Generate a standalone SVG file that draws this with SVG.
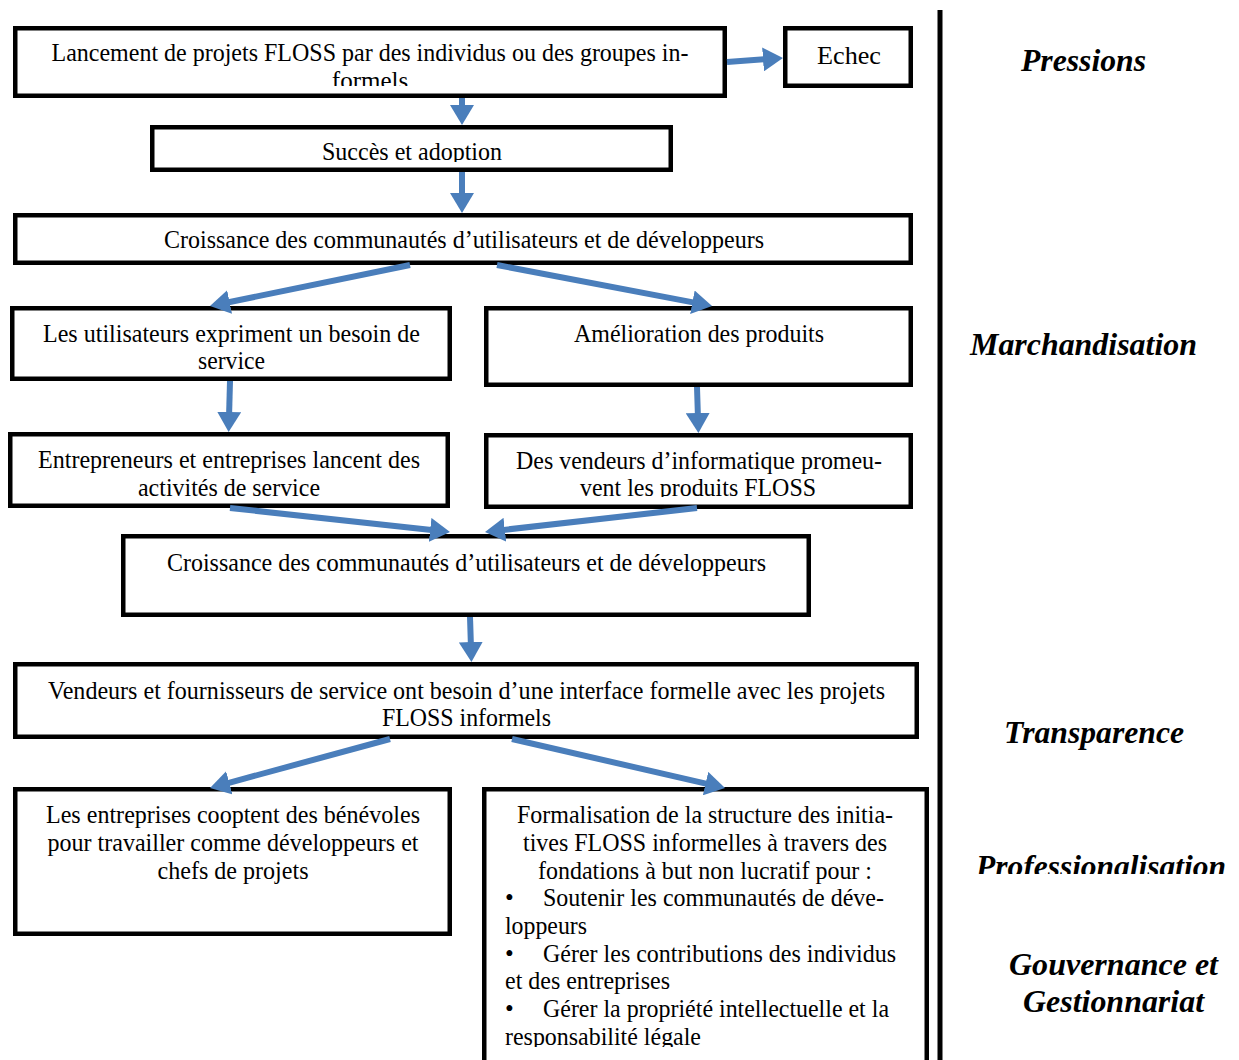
<svg xmlns="http://www.w3.org/2000/svg" width="1239" height="1060" viewBox="0 0 1239 1060">
<style>
.box{fill:#fff;stroke:#000;stroke-width:4.5}
.t{font-family:"Liberation Serif","Times New Roman",serif;font-size:25px;fill:#000}
.c{text-anchor:middle}
.lab{font-family:"Liberation Serif","Times New Roman",serif;font-size:32px;font-weight:bold;font-style:italic;text-anchor:middle;fill:#000}
.arr{stroke:#4A7EBB;stroke-width:6;fill:none;marker-end:url(#ah)}
</style>
<defs>
<marker id="ah" markerUnits="userSpaceOnUse" viewBox="0 0 20 24" markerWidth="20" markerHeight="24" refX="6" refY="12" orient="auto">
<path d="M0,0 L20,12 L0,24 Z" fill="#4A7EBB"/>
</marker>
<clipPath id="c1"><rect x="0" y="0" width="940" height="86"/></clipPath>
<clipPath id="c2"><rect x="0" y="100" width="940" height="62"/></clipPath>
<clipPath id="c5r"><rect x="480" y="420" width="440" height="77"/></clipPath>
<clipPath id="c8r"><rect x="480" y="790" width="450" height="257"/></clipPath>
<clipPath id="cpro"><rect x="945" y="840" width="294" height="34"/></clipPath>
</defs>
<rect width="1239" height="1060" fill="#fff"/>
<rect x="937.5" y="10" width="5" height="1050" fill="#000"/>

<g id="n1">
<rect class="box" x="15.25" y="28.25" width="709.5" height="67.5"/>
<g clip-path="url(#c1)">
<text class="t c" x="370" y="61" textLength="637" lengthAdjust="spacingAndGlyphs">Lancement de projets FLOSS par des individus ou des groupes in-</text>
<text class="t c" x="370" y="89">formels</text>
</g>
</g>
<g id="echec">
<rect class="box" x="785.25" y="28.25" width="125.5" height="57.5"/>
<text class="t c" x="849" y="64" textLength="64" lengthAdjust="spacingAndGlyphs">Echec</text>
</g>
<g id="n2">
<rect class="box" x="152.25" y="127.25" width="518.5" height="42.5"/>
<g clip-path="url(#c2)"><text class="t c" x="412" y="160" textLength="180" lengthAdjust="spacingAndGlyphs">Succès et adoption</text></g>
</g>
<g id="n3">
<rect class="box" x="15.25" y="215.25" width="895.5" height="47.5"/>
<text class="t c" x="464" y="248" textLength="600" lengthAdjust="spacingAndGlyphs">Croissance des communautés d’utilisateurs et de développeurs</text>
</g>
<g id="n4l">
<rect class="box" x="12.25" y="308.25" width="437.5" height="70.5"/>
<text class="t c" x="231.5" y="342" textLength="377" lengthAdjust="spacingAndGlyphs">Les utilisateurs expriment un besoin de</text>
<text class="t c" x="231.5" y="369" textLength="67" lengthAdjust="spacingAndGlyphs">service</text>
</g>
<g id="n4r">
<rect class="box" x="486.25" y="308.25" width="424.5" height="76.5"/>
<text class="t c" x="699" y="342" textLength="250" lengthAdjust="spacingAndGlyphs">Amélioration des produits</text>
</g>
<g id="n5l">
<rect class="box" x="10.25" y="434.25" width="437.5" height="71.5"/>
<text class="t c" x="229" y="468" textLength="382" lengthAdjust="spacingAndGlyphs">Entrepreneurs et entreprises lancent des</text>
<text class="t c" x="229" y="496" textLength="182" lengthAdjust="spacingAndGlyphs">activités de service</text>
</g>
<g id="n5r">
<rect class="box" x="486.25" y="435.25" width="424.5" height="71.5"/>
<g clip-path="url(#c5r)">
<text class="t c" x="699" y="469" textLength="366" lengthAdjust="spacingAndGlyphs">Des vendeurs d’informatique promeu-</text>
<text class="t c" x="698" y="496" textLength="236" lengthAdjust="spacingAndGlyphs">vent les produits FLOSS</text>
</g>
</g>
<g id="n6">
<rect class="box" x="123.25" y="536.25" width="685.5" height="78.5"/>
<text class="t c" x="466.5" y="571" textLength="599" lengthAdjust="spacingAndGlyphs">Croissance des communautés d’utilisateurs et de développeurs</text>
</g>
<g id="n7">
<rect class="box" x="15.25" y="664.25" width="901.5" height="72.5"/>
<text class="t c" x="466.5" y="699" textLength="837" lengthAdjust="spacingAndGlyphs">Vendeurs et fournisseurs de service ont besoin d’une interface formelle avec les projets</text>
<text class="t c" x="466.5" y="726" textLength="169" lengthAdjust="spacingAndGlyphs">FLOSS informels</text>
</g>
<g id="n8l">
<rect class="box" x="15.25" y="789.25" width="434.5" height="144.5"/>
<text class="t c" x="233" y="823" textLength="374" lengthAdjust="spacingAndGlyphs">Les entreprises cooptent des bénévoles</text>
<text class="t c" x="233" y="851" textLength="371" lengthAdjust="spacingAndGlyphs">pour travailler comme développeurs et</text>
<text class="t c" x="233" y="879" textLength="151" lengthAdjust="spacingAndGlyphs">chefs de projets</text>
</g>
<g id="n8r">
<rect class="box" x="484.25" y="789.25" width="442.5" height="280"/>
<g clip-path="url(#c8r)">
<text class="t c" x="705" y="823" textLength="376" lengthAdjust="spacingAndGlyphs">Formalisation de la structure des initia-</text>
<text class="t c" x="705" y="851" textLength="364" lengthAdjust="spacingAndGlyphs">tives FLOSS informelles à travers des</text>
<text class="t c" x="705" y="879" textLength="334" lengthAdjust="spacingAndGlyphs">fondations à but non lucratif pour :</text>
<text class="t" x="505" y="906">•</text>
<text class="t" x="543" y="906" textLength="341" lengthAdjust="spacingAndGlyphs">Soutenir les communautés de déve-</text>
<text class="t" x="505" y="934" textLength="82" lengthAdjust="spacingAndGlyphs">loppeurs</text>
<text class="t" x="505" y="962">•</text>
<text class="t" x="543" y="962" textLength="353" lengthAdjust="spacingAndGlyphs">Gérer les contributions des individus</text>
<text class="t" x="505" y="989" textLength="165" lengthAdjust="spacingAndGlyphs">et des entreprises</text>
<text class="t" x="505" y="1017">•</text>
<text class="t" x="543" y="1017" textLength="346" lengthAdjust="spacingAndGlyphs">Gérer la propriété intellectuelle et la</text>
<text class="t" x="505" y="1045" textLength="196" lengthAdjust="spacingAndGlyphs">responsabilité légale</text>
</g>
</g>

<g id="labels">
<text class="lab" x="1083.5" y="71" textLength="125" lengthAdjust="spacingAndGlyphs">Pressions</text>
<text class="lab" x="1083.5" y="355" textLength="227" lengthAdjust="spacingAndGlyphs">Marchandisation</text>
<text class="lab" x="1094" y="743" textLength="180" lengthAdjust="spacingAndGlyphs">Transparence</text>
<g clip-path="url(#cpro)"><text class="lab" x="1101" y="877" textLength="250" lengthAdjust="spacingAndGlyphs">Professionalisation</text></g>
<text class="lab" x="1113.5" y="975" textLength="209" lengthAdjust="spacingAndGlyphs">Gouvernance et</text>
<text class="lab" x="1113.5" y="1012" textLength="181" lengthAdjust="spacingAndGlyphs">Gestionnariat</text>
</g>

<g id="connectors">
<line class="arr" x1="727" y1="62" x2="769" y2="59"/>
<line class="arr" x1="462" y1="98" x2="462" y2="111"/>
<line class="arr" x1="462" y1="172" x2="462" y2="199"/>
<line class="arr" x1="410" y1="265" x2="223.7" y2="303.2"/>
<line class="arr" x1="497" y1="265" x2="698.3" y2="303.4"/>
<line class="arr" x1="230" y1="381" x2="229" y2="418"/>
<line class="arr" x1="697" y1="387" x2="698" y2="419"/>
<line class="arr" x1="230" y1="508" x2="436.1" y2="530.5"/>
<line class="arr" x1="697" y1="508" x2="498.9" y2="530.4"/>
<line class="arr" x1="470" y1="617" x2="471" y2="648"/>
<line class="arr" x1="390" y1="739" x2="223.5" y2="784.3"/>
<line class="arr" x1="512" y1="739" x2="711.4" y2="784.9"/>
</g>
</svg>
